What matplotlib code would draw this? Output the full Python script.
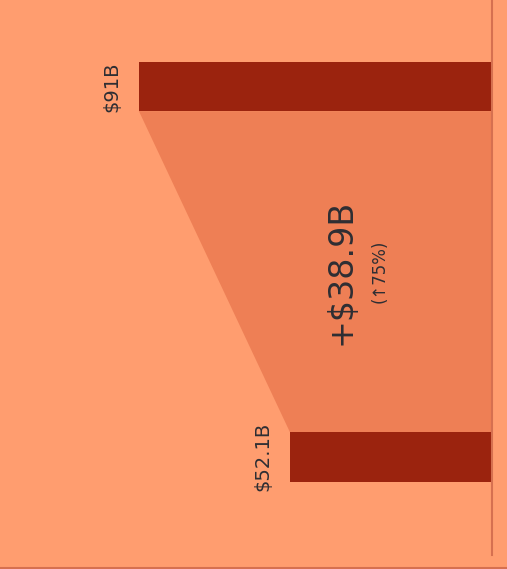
import matplotlib
matplotlib.use("Agg")
import matplotlib.pyplot as plt
from matplotlib.lines import Line2D

# ---- data ----
categories = ["FY2024", "FY2023"]
values = [91.0, 52.1]
value_labels = ["$91B", "$52.1B"]
change_label = "+$38.9B"
pct_label = "(\u219175%)"
# --------------

BG = "#FF9D6F"
BAR = "#9B230E"
SHADE = "#EE7F55"
SPINE = "#D67050"
TEXT = "#2E2E33"

plt.rcParams["font.family"] = ["DejaVu Sans"]

fig = plt.figure(figsize=(5.07, 5.69), dpi=100, facecolor=BG)
ax = fig.add_axes([0, 14 / 569, 492 / 507, 555 / 569])
ax.set_facecolor(BG)

h = 0.134
pos = list(range(len(categories)))

# shaded change area between the two bars
ax.fill([values[0], values[1], 0, 0],
        [pos[0] + h / 2, pos[1] - h / 2, pos[1] - h / 2, pos[0] + h / 2],
        color=SHADE, lw=0, zorder=1)

ax.barh(pos, values, height=h, color=BAR, zorder=2)

for p, v, lab in zip(pos, values, value_labels):
    ax.annotate(lab, (v, p), xytext=(-19.5, 0), textcoords="offset points",
                rotation=90, ha="center", va="center", fontsize=14, color=TEXT)

diff = values[0] - values[1]
ax.text(diff, 0.5, change_label, rotation=90, ha="center", va="center",
        fontsize=24, color=TEXT, zorder=3)
ax.annotate(pct_label, (diff, 0.5), xytext=(28, 0), textcoords="offset points",
            rotation=90, ha="center", va="center", fontsize=12, color=TEXT, zorder=3)

ax.set_xlim(492 / 3.88, 0)
ax.set_ylim(1.265, -0.233)
ax.set_xticks([])
ax.set_yticks(pos)
ax.set_yticklabels(categories, rotation=90, va="center", fontsize=10, color=TEXT)
ax.yaxis.tick_right()
ax.tick_params(axis="y", length=0, pad=12)
for s in ["left", "top", "bottom"]:
    ax.spines[s].set_visible(False)
ax.spines["right"].set_color(SPINE)
ax.spines["right"].set_linewidth(1.5)

fig.add_artist(Line2D([0, 1], [0.002, 0.002], transform=fig.transFigure,
                      color=SPINE, lw=1.5))

fig.savefig("out.png", dpi=100, facecolor=BG)
